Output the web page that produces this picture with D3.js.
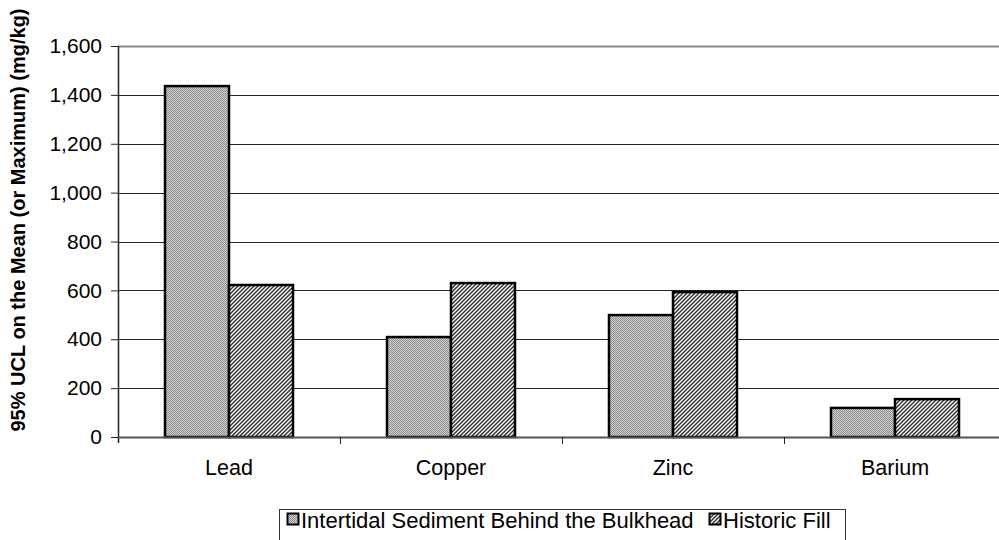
<!DOCTYPE html>
<html>
<head>
<meta charset="utf-8">
<script src="https://cdn.jsdelivr.net/npm/d3@7"></script>
<style>
  html, body { margin: 0; padding: 0; background: #fff; }
  svg { display: block; font-family: Arial, "Liberation Sans", sans-serif; }
</style>
</head>
<body>
<svg id="chart" width="999" height="540"></svg>
<script>
// Metals: 95% UCL on the mean (or maximum), mg/kg
const categories = ["Lead", "Copper", "Zinc", "Barium"];
const seriesNames = ["Intertidal Sediment Behind the Bulkhead", "Historic Fill"];
const intertidal = [1436, 409, 499, 119];
const historicFill = [622, 630, 593, 155];
const yTicks = [0, 200, 400, 600, 800, 1000, 1200, 1400, 1600];

const svg = d3.select("#chart");
const plot = { left: 118, right: 1006, top: 46, bottom: 437 };
const FONT = "Arial, 'Liberation Sans', sans-serif";

// Fill patterns
const defs = svg.append("defs");
const dots = defs.append("pattern").attr("id", "pat-dots")
  .attr("patternUnits", "userSpaceOnUse").attr("width", 2).attr("height", 2);
dots.append("rect").attr("width", 2).attr("height", 2).attr("fill", "#d4d4d4");
dots.append("rect").attr("x", 0).attr("y", 0).attr("width", 1).attr("height", 1).attr("fill", "#8a8a8a");
dots.append("rect").attr("x", 1).attr("y", 1).attr("width", 1).attr("height", 1).attr("fill", "#8a8a8a");

const diag = defs.append("pattern").attr("id", "pat-diag")
  .attr("patternUnits", "userSpaceOnUse").attr("width", 4).attr("height", 4);
diag.append("rect").attr("width", 4).attr("height", 4).attr("fill", "#fff");
diag.append("path").attr("d", "M-1,1 L1,-1 M0,4 L4,0 M3,5 L5,3")
  .attr("stroke", "#333").attr("stroke-width", 1.5);

const fills = ["url(#pat-dots)", "url(#pat-diag)"];

const x = d3.scaleBand().domain(categories)
  .range([plot.left, plot.right]).paddingInner(0.4234).paddingOuter(0.2117);
const xs = d3.scaleBand().domain([0, 1]).range([0, x.bandwidth()]);
const y = d3.scaleLinear().domain([0, 1600]).range([plot.bottom, plot.top]);

// Gridlines
svg.append("g").selectAll("line").data(yTicks.filter(d => d > 0)).join("line")
  .attr("x1", plot.left).attr("x2", 999)
  .attr("y1", d => Math.round(y(d)) + 0.5).attr("y2", d => Math.round(y(d)) + 0.5)
  .attr("stroke", d => d === 1600 ? "#888" : "#222")
  .attr("stroke-width", d => d === 1600 ? 2 : 1);

// Bars
const seriesVals = [intertidal, historicFill];
seriesVals.forEach((vals, si) => {
  svg.append("g").selectAll("rect").data(categories.map((c, i) => ({ c, v: vals[i] }))).join("rect")
    .attr("x", d => x(d.c) + xs(si))
    .attr("y", d => y(d.v))
    .attr("width", xs.bandwidth())
    .attr("height", d => y(0) - y(d.v))
    .attr("fill", fills[si])
    .attr("stroke", "#000")
    .attr("stroke-width", 2.5);
});

// Y axis
const yAxis = svg.append("g").attr("transform", `translate(${plot.left},0)`)
  .call(d3.axisLeft(y).tickValues(yTicks).tickSize(7).tickPadding(9)
    .tickFormat(d3.format(",")));
yAxis.select(".domain").attr("stroke", "#222").attr("stroke-width", 1.5)
  .attr("d", `M0.5,${plot.top}V${plot.bottom + 6}`);
yAxis.selectAll(".tick line").attr("stroke", "#222");
yAxis.selectAll("text").attr("font-size", 21).attr("fill", "#000").attr("font-family", FONT);

// X axis: ticks at category boundaries
const xAxis = svg.append("g").attr("transform", `translate(0,${plot.bottom})`)
  .call(d3.axisBottom(x).tickSize(0).tickPadding(23));
xAxis.select(".domain").attr("stroke", "#555").attr("stroke-width", 2)
  .attr("d", `M${plot.left},0.5H999`);
xAxis.selectAll("text").attr("font-size", 21.5).attr("fill", "#000").attr("font-family", FONT);
xAxis.selectAll(".boundary").data(categories.slice(1)).join("line")
  .attr("class", "boundary")
  .attr("x1", d => Math.round(x(d) - x.step() * x.paddingInner() / 2) + 0.5)
  .attr("x2", d => Math.round(x(d) - x.step() * x.paddingInner() / 2) + 0.5)
  .attr("y1", 0).attr("y2", 7).attr("stroke", "#222");

// Y axis title
svg.append("text")
  .attr("transform", "translate(25,220) rotate(-90)")
  .attr("text-anchor", "middle")
  .attr("font-size", 20).attr("font-weight", "bold")
  .text("95% UCL on the Mean (or Maximum) (mg/kg)");

// Legend
const legend = svg.append("g");
legend.append("rect").attr("x", 279.5).attr("y", 509.5).attr("width", 566).attr("height", 40)
  .attr("fill", "#fff").attr("stroke", "#333").attr("stroke-width", 1);
const legendItems = [
  { x: 287, name: seriesNames[0], fill: fills[0] },
  { x: 709, name: seriesNames[1], fill: fills[1] }
];
legendItems.forEach(it => {
  legend.append("rect").attr("x", it.x + 0.5).attr("y", 513.5).attr("width", 11).attr("height", 11)
    .attr("fill", it.fill).attr("stroke", "#000").attr("stroke-width", 2);
  legend.append("text").attr("x", it.x + 14).attr("y", 528)
    .attr("font-size", 22).attr("font-family", FONT).text(it.name);
});
</script>
</body>
</html>
